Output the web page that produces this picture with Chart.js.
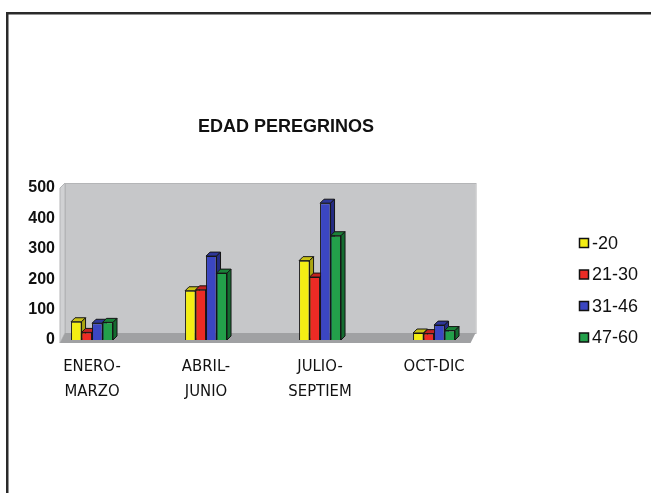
<!DOCTYPE html>
<html>
<head>
<meta charset="utf-8">
<script src="https://cdn.jsdelivr.net/npm/chart.js@4/dist/chart.umd.min.js"></script>
<style>
    html, body { margin: 0; padding: 0; background: #fff; }
    canvas { display: block; }
</style>
</head>
<body>
<canvas id="edad" width="651" height="493"></canvas>
<script>
// pilgrims per quarter, split by age group
const periods = [['ENERO-', 'MARZO'], ['ABRIL-', 'JUNIO'], ['JULIO-', 'SEPTIEM'], ['OCT-DIC']]
const ageGroups = ['-20', '21-30', '31-46', '47-60']
const under20 = [60, 162, 261, 23]
const age21to30 = [25, 165, 207, 21]
const age31to46 = [55, 276, 450, 49]
const age47to60 = [58, 220, 343, 31]
const yTicks = { min: 0, max: 500, step: 100 }

const fronts = ['#f4ee14', '#ec2b25', '#3b46c2', '#23a04a']
const sides = ['#aaa410', '#a01b17', '#242b82', '#146c30']
const tops = ['#c9c216', '#c22220', '#2e3698', '#1a8238']

const FONT = "'Liberation Sans', Arial, sans-serif"
const DEPTH = 4
const WALL_END = 3.32 // x value where the floor/wall stop

const seriesValues = [under20, age21to30, age31to46, age47to60]

// draws the grey back wall + floor and the bars with their 3d faces
const box3d = {
    id: 'box3d',
    beforeDatasetsDraw(chart) {
        const { ctx, chartArea, scales } = chart
        const xs = scales.x
        const ys = scales.y
        const x0 = chartArea.left
        const x1 = xs.getPixelForValue(WALL_END)
        const yTop = ys.getPixelForValue(yTicks.max)
        const yBase = ys.getPixelForValue(0)

        ctx.save()
        // back wall
        ctx.fillStyle = '#c6c7c9'
        ctx.strokeStyle = '#b4b5b7'
        ctx.lineWidth = 1
        ctx.fillRect(x0 + 5, yTop - 5, x1 - x0, yBase - 7 - (yTop - 5))
        ctx.strokeRect(x0 + 5.5, yTop - 4.5, x1 - x0, yBase - 7 - (yTop - 5))
        // left side wall
        ctx.fillStyle = '#d0d1d3'
        ctx.beginPath()
        ctx.moveTo(x0, yTop)
        ctx.lineTo(x0 + 5, yTop - 5)
        ctx.lineTo(x0 + 5, yBase - 7)
        ctx.lineTo(x0, yBase + 3)
        ctx.closePath()
        ctx.fill()
        ctx.stroke()
        // floor
        ctx.fillStyle = '#a0a1a3'
        ctx.beginPath()
        ctx.moveTo(x0, yBase + 3)
        ctx.lineTo(x0 + 5, yBase - 7)
        ctx.lineTo(x1 + 5, yBase - 7)
        ctx.lineTo(x1, yBase + 3)
        ctx.closePath()
        ctx.fill()

        // bars left to right inside each group so the next front hides the side
        chart.data.datasets.forEach((ds, di) => {
            const meta = chart.getDatasetMeta(di)
            meta.data.forEach((bar) => {
                const { x, y, base, width } = bar.getProps(['x', 'y', 'base', 'width'], true)
                const l = x - width / 2
                const r = x + width / 2
                ctx.strokeStyle = '#151515'
                ctx.lineWidth = 1
                // top face
                ctx.fillStyle = tops[di]
                ctx.beginPath()
                ctx.moveTo(l, y)
                ctx.lineTo(l + DEPTH, y - DEPTH)
                ctx.lineTo(r + DEPTH, y - DEPTH)
                ctx.lineTo(r, y)
                ctx.closePath()
                ctx.fill()
                ctx.stroke()
                // side face
                ctx.fillStyle = sides[di]
                ctx.beginPath()
                ctx.moveTo(r, y)
                ctx.lineTo(r + DEPTH, y - DEPTH)
                ctx.lineTo(r + DEPTH, base - DEPTH)
                ctx.lineTo(r, base)
                ctx.closePath()
                ctx.fill()
                ctx.stroke()
                bar.draw(ctx)
            })
        })
        ctx.restore()
        return false
    },
    afterDraw(chart) {
        const { ctx } = chart
        ctx.save()
        // legend
        ctx.font = '18px ' + FONT
        ctx.textBaseline = 'middle'
        ageGroups.forEach((name, i) => {
            const cy = 243 + i * 31.5
            ctx.fillStyle = fronts[i]
            ctx.fillRect(579.5, cy - 4.5, 9, 9)
            ctx.strokeStyle = '#111'
            ctx.lineWidth = 1.5
            ctx.strokeRect(579.5, cy - 4.5, 9, 9)
            ctx.fillStyle = '#111'
            ctx.fillText(name, 592, cy + 1)
        })
        // page frame (top + left edge)
        ctx.fillStyle = '#2a2a2a'
        ctx.fillRect(6, 12, 645, 2.5)
        ctx.fillRect(6, 12, 2.5, 481)
        ctx.restore()
    },
}

const datasets = seriesValues.map((vals, i) => ({
    label: ageGroups[i],
    data: vals.map((v, k) => ({ x: k, y: v })),
    backgroundColor: fronts[i],
    borderColor: '#151515',
    borderWidth: 1,
    categoryPercentage: 0.368,
    barPercentage: 1,
}))

new Chart(document.getElementById('edad'), {
    type: 'bar',
    data: { datasets },
    plugins: [box3d],
    options: {
        responsive: false,
        animation: false,
        events: [],
        layout: { padding: { top: 100, left: 0, right: 79, bottom: 91 } },
        plugins: {
            legend: { display: false },
            tooltip: { enabled: false },
            title: {
                display: true,
                text: 'EDAD PEREGRINOS',
                color: '#111',
                font: { family: FONT, size: 18, weight: 'bold' },
                padding: { top: 16, bottom: 50.4 },
            },
        },
        scales: {
            x: {
                type: 'linear',
                offset: false,
                min: -0.281,
                max: 4.21,
                grid: { display: false, drawTicks: false },
                border: { display: false },
                ticks: {
                    stepSize: 1,
                    autoSkip: false,
                    maxRotation: 0,
                    includeBounds: false,
                    padding: 14,
                    color: '#111',
                    font: { family: "'DejaVu Sans Condensed', " + FONT, size: 16.5, lineHeight: 1.52 },
                    callback: (v) => (Number.isInteger(v) && periods[v] ? periods[v] : ''),
                },
                afterFit: (s) => { s.height = 62 },
            },
            y: {
                min: yTicks.min,
                max: yTicks.max,
                grid: { display: false, drawTicks: false },
                border: { display: false },
                ticks: {
                    stepSize: yTicks.step,
                    padding: 5,
                    color: '#111',
                    font: { family: FONT, size: 16, weight: 'bold' },
                },
                afterFit: (s) => { s.width = 60 },
            },
        },
    },
})
</script>
</body>
</html>
